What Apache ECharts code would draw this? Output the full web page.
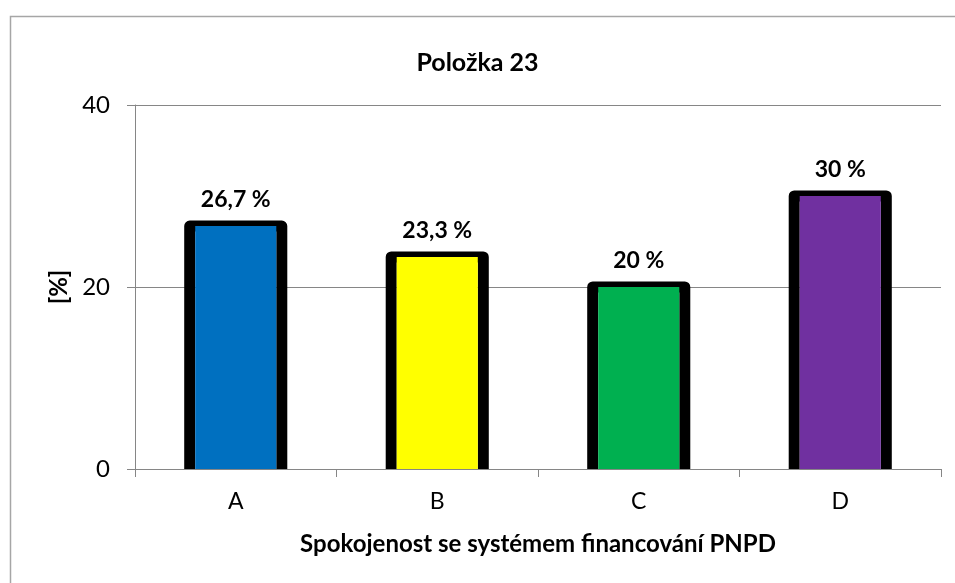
<!DOCTYPE html>
<html>
<head>
<meta charset="utf-8">
<script src="https://cdn.jsdelivr.net/npm/echarts@6/dist/echarts.min.js"></script>
<style>html,body{margin:0;padding:0;background:#fff}#c{width:955px;height:583px}</style>
</head>
<body>
<div id="c"></div>
<script>
var categories = ['A', 'B', 'C', 'D'];
var values = [26.7, 23.3, 20, 30];
var colors = ['#0070C0', '#FFFF00', '#00B050', '#7030A0'];
var yTicks = [0, 20, 40];

var FONT = 'Lato';
var chart = echarts.init(document.getElementById('c'), null, {renderer: 'canvas'});

function fmt(v) { return String(v).replace('.', ',') + ' %'; }

chart.setOption({
  animation: false,
  backgroundColor: '#fff',
  textStyle: {fontFamily: FONT},
  graphic: [{
    type: 'rect', silent: true, z: -10,
    shape: {x: 10.5, y: 16.5, width: 1200, height: 1200},
    style: {fill: 'none', stroke: '#a6a6a6', lineWidth: 1.5}
  }],
  title: {
    text: 'Položka 23', left: 'center', top: 45,
    textStyle: {fontFamily: FONT, fontSize: 25, fontWeight: 'bold', color: '#000'}
  },
  grid: {left: 135, right: 14, top: 105, bottom: 114},
  xAxis: {
    type: 'category', data: categories,
    name: 'Spokojenost se systémem financování PNPD',
    nameLocation: 'middle', nameGap: 63,
    nameTextStyle: {fontFamily: FONT, fontSize: 24, fontWeight: 'bold', color: '#000'},
    axisLine: {lineStyle: {color: '#868686', width: 1}},
    axisTick: {show: true, length: 8, lineStyle: {color: '#868686'}},
    axisLabel: {fontFamily: FONT, fontSize: 23, color: '#000', margin: 21},
    splitLine: {show: false}
  },
  yAxis: {
    type: 'value', min: yTicks[0], max: yTicks[yTicks.length - 1], interval: yTicks[1] - yTicks[0],
    name: '[%]', nameLocation: 'middle', nameGap: 62,
    nameTextStyle: {fontFamily: FONT, fontSize: 24, fontWeight: 'bold', color: '#000'},
    axisLine: {show: true, lineStyle: {color: '#868686', width: 1}},
    axisTick: {show: true, length: 8, lineStyle: {color: '#868686'}},
    axisLabel: {fontFamily: FONT, fontSize: 24, color: '#000', margin: 25},
    splitLine: {show: true, lineStyle: {color: '#868686', width: 1}}
  },
  series: [{
    type: 'custom',
    data: values.map(function (v, i) { return [i, v]; }),
    z: 1,
    renderItem: function (params, api) {
      var i = api.value(0), v = api.value(1);
      var top = api.coord([i, v]);
      var base = api.coord([i, 0]);
      var w = api.size([1, 0])[0] * 0.457;
      var lw = 11;
      var xL = top[0] - w / 2, xR = top[0] + w / 2;
      return {
        type: 'group',
        children: [{
          type: 'polyline',
          shape: {points: [[xL, base[1]], [xL, top[1]], [xR, top[1]], [xR, base[1]]]},
          style: {fill: null, stroke: '#000', lineWidth: lw, lineJoin: 'round', lineCap: 'butt'}
        }, {
          type: 'rect',
          shape: {x: xL + lw / 2, y: top[1], width: w - lw, height: base[1] - top[1]},
          style: {fill: colors[i]}
        }, {
          type: 'text',
          style: {
            x: top[0], y: top[1] - 15, text: fmt(v),
            align: 'center', verticalAlign: 'bottom',
            fontFamily: FONT, fontSize: 23, fontWeight: 'bold', fill: '#000'
          }
        }]
      };
    }
  }]
});
</script>
</body>
</html>
